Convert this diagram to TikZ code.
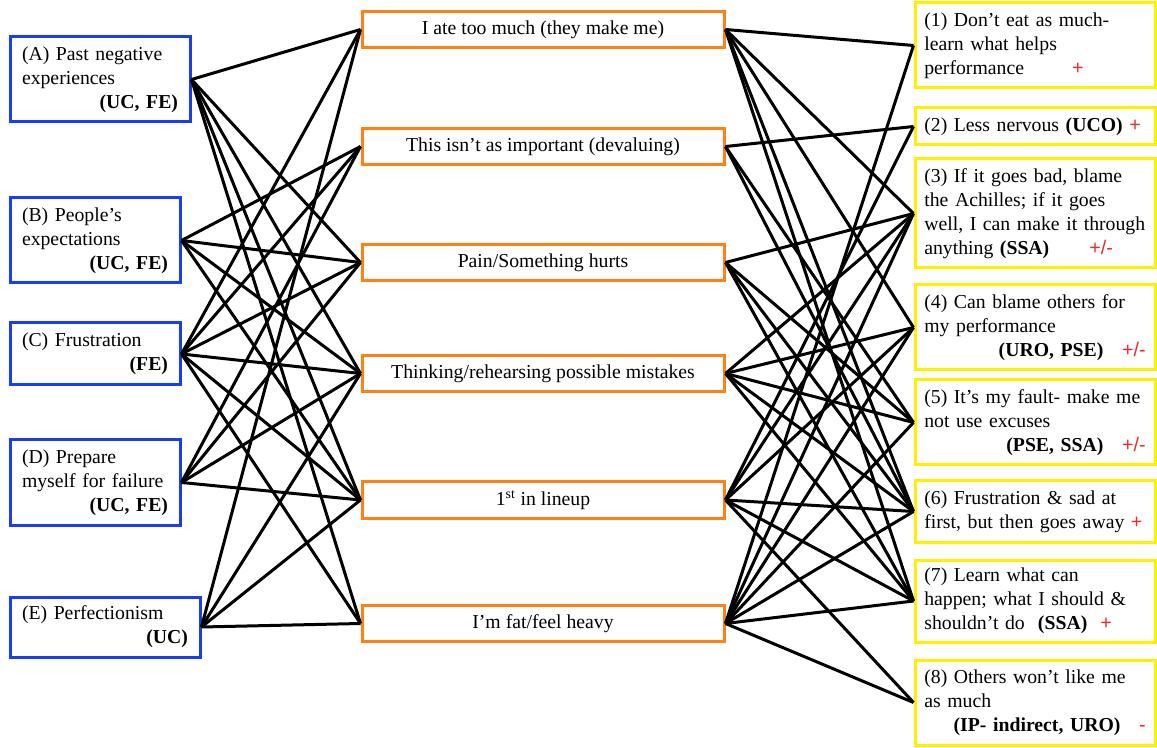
\documentclass[tikz,border=0pt]{standalone}
\usepackage{fontspec}
\setmainfont{Liberation Serif}
\newfontfamily\markfont{Liberation Sans}
\definecolor{lblue}{RGB}{25,60,245}
\definecolor{morange}{RGB}{255,128,20}
\definecolor{ryellow}{RGB}{255,240,0}
\definecolor{markred}{RGB}{240,40,40}
\newcommand{\mk}[1]{\textcolor{markred}{\markfont #1}}
\begin{document}
\begin{tikzpicture}[x=0.75pt,y=-0.75pt,
  font=\fontsize{14.8}{18}\selectfont,
  lbox/.style={draw=lblue, line width=2.25pt, inner xsep=9pt, inner ysep=2pt, align=left},
  mbox/.style={draw=morange, line width=2.25pt, minimum width=271.5pt, minimum height=27pt, inner sep=0pt},
  rbox/.style={draw=ryellow, line width=2.25pt, text width=166pt, inner xsep=7pt, inner ysep=2pt, align=left},
  conn/.style={line width=2.25pt, black}]
\useasboundingbox (0,0) rectangle (1157,748);

% left boxes
\node[lbox, text width=117pt, minimum height=63.75pt] (A) at (100,79.5)
  {(A) Past negative\\experiences\\\hfill\textbf{(UC, FE)}};
\node[lbox, text width=109.5pt, minimum height=63.75pt] (B) at (95,240.5)
  {(B) People’s\\expectations\\\hfill\textbf{(UC, FE)}};
\node[lbox, text width=109.5pt, minimum height=46.5pt] (C) at (95,354)
  {(C) Frustration\\\hfill\textbf{(FE)}};
\node[lbox, text width=109.5pt, minimum height=63.75pt] (D) at (95,482.5)
  {(D) Prepare\\myself for failure\\\hfill\textbf{(UC, FE)}};
\node[lbox, text width=124.5pt, minimum height=45pt] (E) at (105,627)
  {(E) Perfectionism\\\hfill\textbf{(UC)}};

% middle boxes
\node[mbox] (m1) at (543,29.5) {I ate too much (they make me)};
\node[mbox] (m2) at (543,146.5) {This isn’t as important (devaluing)};
\node[mbox] (m3) at (543,262.5) {Pain/Something hurts};
\node[mbox] (m4) at (543,373.5) {Thinking/rehearsing possible mistakes};
\node[mbox] (m5) at (543,500) {1\textsuperscript{st} in lineup};
\node[mbox] (m6) at (543,623.5) {I’m fat/feel heavy};

% right boxes
\node[rbox, minimum height=63.75pt] (r1) at (1035,45.5)
  {(1) Don’t eat as much-\\learn what helps\\performance\hspace{36pt}\mk{+}};
\node[rbox, minimum height=27.75pt] (r2) at (1035,126.5)
  {(2) Less nervous \textbf{(UCO)} \mk{+}};
\node[rbox, minimum height=81.75pt] (r3) at (1035,213.5)
  {(3) If it goes bad, blame\\the Achilles; if it goes\\well, I can make it through\\anything \textbf{(SSA)}\hspace{30pt}\mk{+/-}};
\node[rbox, minimum height=63.75pt] (r4) at (1035,327.5)
  {(4) Can blame others for\\my performance\\\hfill\textbf{(URO, PSE)}\hspace{14pt}\mk{+/-}};
\node[rbox, minimum height=63.75pt] (r5) at (1035,422.5)
  {(5) It’s my fault- make me\\not use excuses\\\hfill\textbf{(PSE, SSA)}\hspace{14pt}\mk{+/-}};
\node[rbox, minimum height=45.75pt] (r6) at (1035,511.5)
  {(6) Frustration \& sad at\\first, but then goes away \mk{+}};
\node[rbox, minimum height=61.5pt] (r7) at (1035,601)
  {(7) Learn what can\\happen; what I should \&\\shouldn’t do\ \ \textbf{(SSA)}\ \ \mk{+}};
\node[rbox, minimum height=63.75pt] (r8) at (1035,702.5)
  {(8) Others won’t like me\\as much\\\hfill\textbf{(IP- indirect, URO)}\hspace{14pt}\mk{-}};

% left connectors
\foreach \s/\t in {A/m1,A/m3,A/m4,A/m5,A/m6,
                   B/m2,B/m3,B/m4,B/m5,
                   C/m1,C/m2,C/m3,C/m4,C/m5,C/m6,
                   D/m2,D/m3,D/m4,D/m5,
                   E/m1,E/m4,E/m5,E/m6}
  \draw[conn] (\s.east) -- (\t.west);

% right connectors
\foreach \s/\t in {m1/r1,m1/r3,m1/r4,m1/r6,m1/r7,
                   m2/r2,m2/r5,m2/r6,
                   m3/r3,m3/r5,m3/r6,m3/r7,
                   m4/r3,m4/r4,m4/r5,m4/r6,m4/r7,
                   m5/r2,m5/r3,m5/r4,m5/r6,m5/r7,m5/r8,
                   m6/r1,m6/r3,m6/r4,m6/r5,m6/r6,m6/r7,m6/r8}
  \draw[conn] (\s.east) -- (\t.west);
\end{tikzpicture}
\end{document}
